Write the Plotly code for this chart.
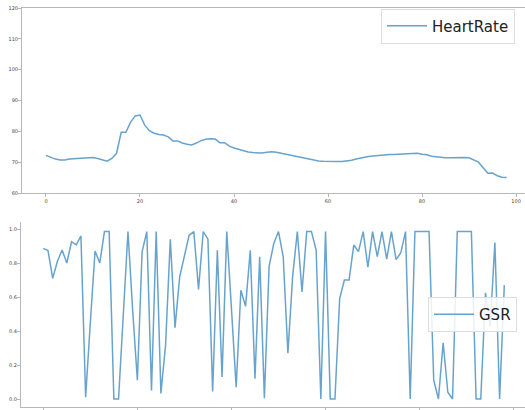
import plotly.graph_objects as go

heart_rate = [
    72.2, 71.6, 71.0, 70.7, 70.7, 71.0, 71.1, 71.3, 71.5, 71.6,
    71.5, 71.2, 70.7, 70.3, 71.2, 72.8, 79.7, 79.7, 83.0, 85.0,
    85.3, 82.0, 80.2, 79.4, 79.0, 78.8, 78.2, 76.9, 76.9, 76.2,
    75.8, 75.6, 76.2, 77.0, 77.4, 77.6, 77.5, 76.3, 76.3, 75.2,
    74.6, 74.2, 73.6, 73.3, 73.1, 73.0, 73.0, 73.2, 73.4, 73.2,
    72.9, 72.6, 72.3, 72.0, 71.7, 71.3, 70.9, 70.6, 70.4, 70.3,
    70.2, 70.2, 70.2, 70.2, 70.3, 70.6, 71.0, 71.4, 71.7, 71.9,
    72.1, 72.3, 72.4, 72.5, 72.5, 72.6, 72.6, 72.6, 72.7, 72.9,
    72.6, 72.4, 71.9, 71.7, 71.6, 71.4, 71.4, 71.5, 71.5, 71.5,
    71.4, 70.8, 70.0, 68.2, 66.4, 66.5, 65.6, 65.1, 65.0,
]

gsr = [
    0.886, 0.873, 0.71, 0.81, 0.876, 0.80, 0.925, 0.906, 0.959, 0.01,
    0.45, 0.87, 0.80, 0.985, 0.985, 0.0, 0.0, 0.5, 0.985, 0.52,
    0.11, 0.865, 0.985, 0.05, 0.985, 0.033, 0.32, 0.94, 0.42, 0.72,
    0.84, 0.963, 0.985, 0.645, 0.985, 0.94, 0.044, 0.875, 0.13, 0.985,
    0.53, 0.07, 0.64, 0.545, 0.875, 0.12, 0.836, 0.005, 0.78, 0.915,
    0.985, 0.837, 0.27, 0.72, 0.985, 0.63, 0.985, 0.985, 0.876, 0.0,
    0.985, 0.0, 0.0, 0.59, 0.70, 0.70, 0.906, 0.867, 0.985, 0.775,
    0.985, 0.837, 0.985, 0.823, 0.985, 0.82, 0.86, 0.985, 0.0, 0.985,
    0.985, 0.985, 0.985, 0.11, 0.0, 0.33, 0.04, 0.0, 0.985, 0.985,
    0.985, 0.985, 0.0, 0.0, 0.625, 0.425, 0.92, 0.0, 0.67,
]

x_vals = list(range(len(heart_rate)))
hr_ticks = [60, 70, 80, 90, 100, 110, 120]
gsr_ticks = [0.0, 0.2, 0.4, 0.6, 0.8, 1.0]
x_ticks = [0, 20, 40, 60, 80, 100]

W, H = 525, 410


def px_x(v):
    return v / W


def px_y(v):
    return 1 - v / H


line_color = "rgba(31,119,180,0.68)"
spine = "#b8b8b8"
tick_font = dict(family="DejaVu Sans", size=5, color="#444")
legend_font = dict(family="DejaVu Sans", size=15, color="#222")

fig = go.Figure()
fig.add_trace(go.Scatter(x=x_vals, y=heart_rate, mode="lines", name="HeartRate",
                         line=dict(color=line_color, width=1.5),
                         xaxis="x", yaxis="y", legend="legend"))
fig.add_trace(go.Scatter(x=x_vals, y=gsr, mode="lines", name="GSR",
                         line=dict(color=line_color, width=1.5),
                         xaxis="x2", yaxis="y2", legend="legend2"))

axis_common = dict(showgrid=False, zeroline=False, ticks="outside", ticklen=3,
                   tickcolor=spine, tickfont=tick_font, linecolor=spine,
                   linewidth=1, showline=True, automargin=False,
                   ticklabeloverflow="allow")

fig.update_layout(
    width=W, height=H,
    margin=dict(l=0, r=0, t=0, b=0),
    paper_bgcolor="white", plot_bgcolor="white",
    xaxis=dict(domain=[px_x(22), 1], range=[-5.1, 101.9], tickvals=x_ticks,
               mirror=True, anchor="y", **axis_common),
    yaxis=dict(domain=[px_y(193), px_y(8)], range=[60, 120], tickvals=hr_ticks,
               anchor="x", ticklabelstandoff=-1, **axis_common),
    xaxis2=dict(domain=[px_x(21), 1], range=[-4.74, 102.4], tickvals=x_ticks,
                showticklabels=False, anchor="y2", **axis_common),
    yaxis2=dict(domain=[px_y(407.4), px_y(222)], range=[-0.0494, 1.0412],
                tickvals=gsr_ticks, tickformat=".1f", anchor="x2",
                ticklabelstandoff=-1, **axis_common),
    legend=dict(x=px_x(381), y=px_y(8.5), xanchor="left", yanchor="top",
                xref="paper", yref="paper", itemwidth=40,
                bgcolor="rgba(255,255,255,0.85)", bordercolor="#dddddd", borderwidth=1,
                font=legend_font),
    legend2=dict(x=px_x(428), y=px_y(297), xanchor="left", yanchor="top",
                 xref="paper", yref="paper", itemwidth=40,
                 bgcolor="rgba(255,255,255,0.85)", bordercolor="#dddddd", borderwidth=1,
                 font=legend_font),
    showlegend=True,
)

# remove the browser's default 8px body margin so the figure fills the window
fig.write_html("out.html", config={"displayModeBar": False},
               post_script="document.body.style.margin='0px';")
